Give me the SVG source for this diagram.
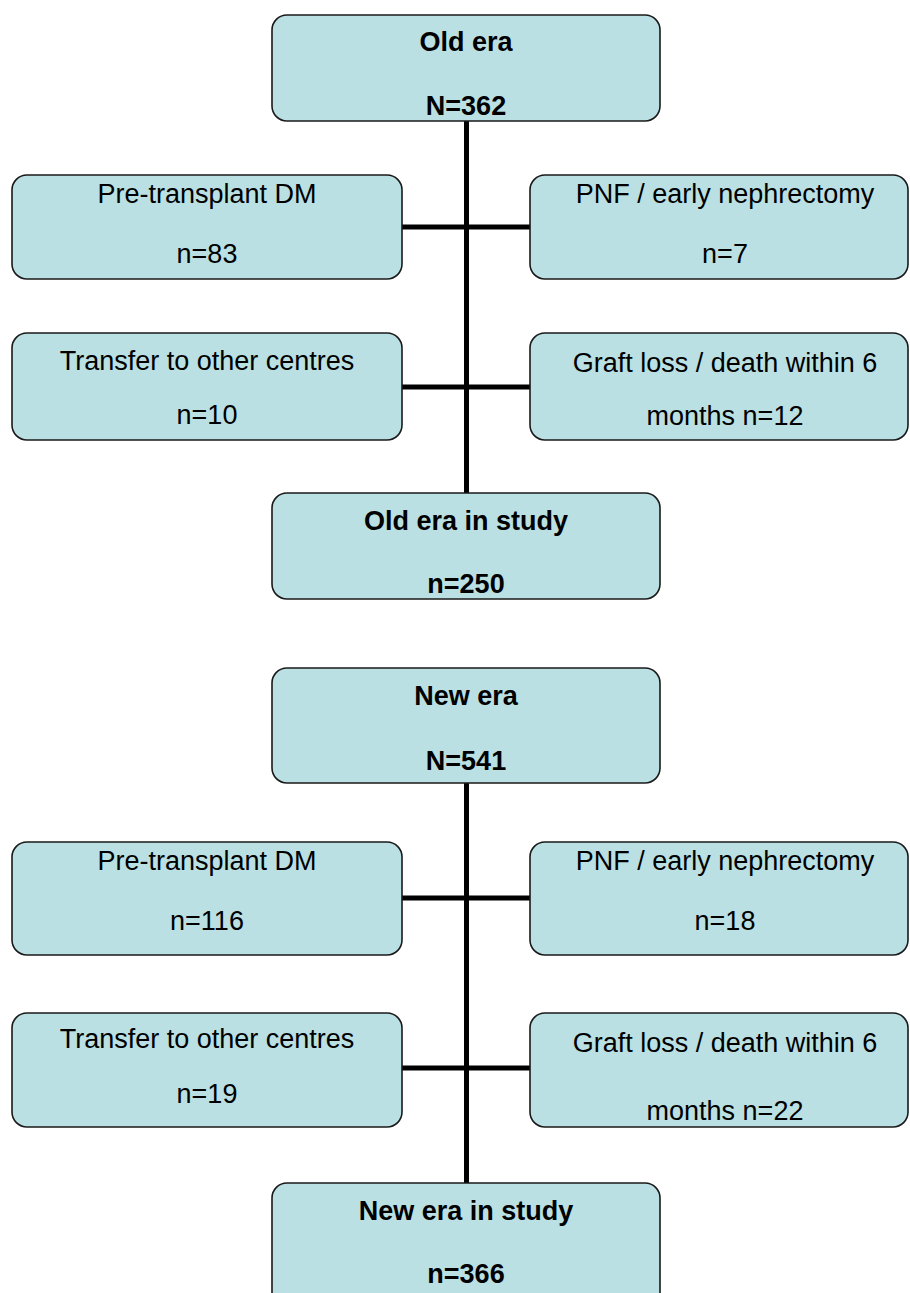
<svg xmlns="http://www.w3.org/2000/svg" width="910" height="1293" viewBox="0 0 910 1293">
<style>
.box{fill:#bae0e3;stroke:#1a1a1a;stroke-width:1.6}
.t{font-family:"Liberation Sans",Arial,sans-serif;font-size:27px;fill:#000;text-anchor:middle}
.b{font-weight:bold}
.c{stroke:#000;stroke-width:5;fill:none}
</style>
<rect width="910" height="1293" fill="#fff"/>
<g id="connectors">
<line class="c" x1="466.5" y1="121" x2="466.5" y2="493"/>
<line class="c" x1="402" y1="227" x2="530" y2="227"/>
<line class="c" x1="402" y1="387" x2="530" y2="387"/>
<line class="c" x1="466.5" y1="783" x2="466.5" y2="1183"/>
<line class="c" x1="402" y1="898" x2="530" y2="898"/>
<line class="c" x1="402" y1="1068" x2="530" y2="1068"/>
</g>
<g id="old-era">
<rect class="box" x="272" y="15" width="388" height="106" rx="15"/>
<text class="t b" x="466" y="51">Old era</text>
<text class="t b" x="466" y="115">N=362</text>
</g>
<g id="old-dm">
<rect class="box" x="12" y="175" width="390" height="104" rx="15"/>
<text class="t" x="207" y="203">Pre-transplant DM</text>
<text class="t" x="207" y="263">n=83</text>
</g>
<g id="old-pnf">
<rect class="box" x="530" y="175" width="378" height="104" rx="15"/>
<text class="t" x="725" y="203">PNF / early nephrectomy</text>
<text class="t" x="725" y="263">n=7</text>
</g>
<g id="old-transfer">
<rect class="box" x="12" y="333" width="390" height="107" rx="15"/>
<text class="t" x="207" y="370">Transfer to other centres</text>
<text class="t" x="207" y="424">n=10</text>
</g>
<g id="old-graft">
<rect class="box" x="530" y="333" width="378" height="107" rx="15"/>
<text class="t" x="725" y="372">Graft loss / death within 6</text>
<text class="t" x="725" y="425">months n=12</text>
</g>
<g id="old-study">
<rect class="box" x="272" y="493" width="388" height="106" rx="15"/>
<text class="t b" x="466" y="530">Old era in study</text>
<text class="t b" x="466" y="593">n=250</text>
</g>
<g id="new-era">
<rect class="box" x="272" y="668" width="388" height="115" rx="15"/>
<text class="t b" x="466" y="705">New era</text>
<text class="t b" x="466" y="770">N=541</text>
</g>
<g id="new-dm">
<rect class="box" x="12" y="842" width="390" height="113" rx="15"/>
<text class="t" x="207" y="870">Pre-transplant DM</text>
<text class="t" x="207" y="930">n=116</text>
</g>
<g id="new-pnf">
<rect class="box" x="530" y="842" width="378" height="113" rx="15"/>
<text class="t" x="725" y="870">PNF / early nephrectomy</text>
<text class="t" x="725" y="930">n=18</text>
</g>
<g id="new-transfer">
<rect class="box" x="12" y="1013" width="390" height="114" rx="15"/>
<text class="t" x="207" y="1048">Transfer to other centres</text>
<text class="t" x="207" y="1103">n=19</text>
</g>
<g id="new-graft">
<rect class="box" x="530" y="1013" width="378" height="114" rx="15"/>
<text class="t" x="725" y="1052">Graft loss / death within 6</text>
<text class="t" x="725" y="1120">months n=22</text>
</g>
<g id="new-study">
<rect class="box" x="272" y="1183" width="388" height="125" rx="15"/>
<text class="t b" x="466" y="1220">New era in study</text>
<text class="t b" x="466" y="1283">n=366</text>
</g>
</svg>
